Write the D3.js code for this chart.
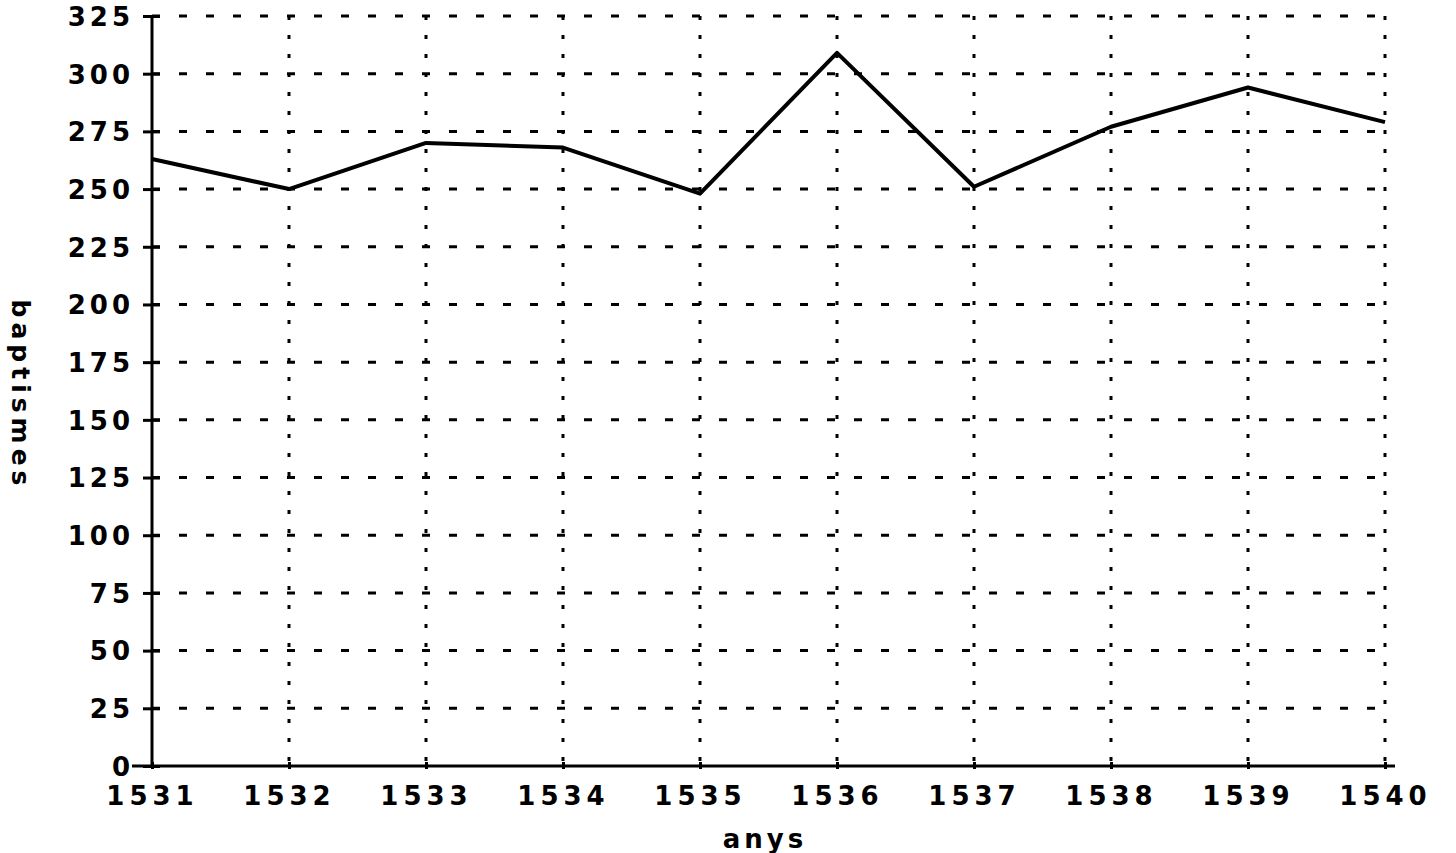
<!DOCTYPE html>
<html><head><meta charset="utf-8">
<script src="https://cdn.jsdelivr.net/npm/d3@7"></script>
<style>
body{margin:0;background:#fff;}
text{font-family:"DejaVu Sans",sans-serif;font-weight:bold;fill:#000;}
</style></head>
<body><svg id="c" width="1456" height="853"></svg>
<script>
const years = [1531,1532,1533,1534,1535,1536,1537,1538,1539,1540];
const baptismes = [263,250,270,268,248,309,251,277,294,279];
const yTicks = [0,25,50,75,100,125,150,175,200,225,250,275,300,325];
const xLabel = "anys";
const yLabel = "baptismes";

const svg = d3.select("#c");
const x = d3.scaleLinear().domain([1531,1540]).range([152,1385]);
const y = d3.scaleLinear().domain([0,325]).range([766,16]);

// grid
svg.append("g").selectAll("line").data(yTicks.filter(d=>d>0)).join("line")
  .attr("x1",x(1531)).attr("x2",x(1540)).attr("y1",d=>y(d)).attr("y2",d=>y(d))
  .attr("stroke","#000").attr("stroke-width",3).attr("stroke-dasharray","8,19");
svg.append("g").selectAll("line").data(years.slice(1)).join("line")
  .attr("x1",d=>x(d)).attr("x2",d=>x(d)).attr("y1",y(325)).attr("y2",y(0))
  .attr("stroke","#000").attr("stroke-width",3).attr("stroke-dasharray","4,15");

// axes
const yAxis = d3.axisLeft(y).tickValues(yTicks).tickSize(10).tickPadding(14);
const gy = svg.append("g").attr("transform",`translate(${x(1531)},0)`).call(yAxis);
gy.select(".domain").attr("stroke-width",3).attr("d",`M0,${y(325)}V${y(0)}`);
gy.selectAll(".tick line").attr("x1",-9).attr("x2",8).attr("stroke-width",3);
gy.selectAll(".tick text").attr("font-size",26).attr("letter-spacing",4).attr("dy","0.36em").attr("x",-18);

const xAxis = d3.axisBottom(x).tickValues(years).tickFormat(d3.format("d")).tickSize(5).tickPadding(16);
const gx = svg.append("g").attr("transform",`translate(0,${y(0)})`).call(xAxis);
gx.select(".domain").attr("stroke-width",3).attr("d",`M${x(1531)-20},0H${x(1540)+10}`);
gx.selectAll(".tick line").attr("y1",-4).attr("y2",3).attr("stroke-width",3);
gx.selectAll(".tick text").attr("font-size",26).attr("letter-spacing",5);

// line
svg.append("path").datum(years.map((d,i)=>[d,baptismes[i]]))
  .attr("fill","none").attr("stroke","#000").attr("stroke-width",4).attr("stroke-linejoin","round")
  .attr("d",d3.line().x(d=>x(d[0])).y(d=>y(d[1])));

// labels
svg.append("text").attr("x",765).attr("y",848).attr("text-anchor","middle")
  .attr("font-size",26).attr("letter-spacing",4).text(xLabel);
svg.append("text").attr("transform","translate(12,395) rotate(90)").attr("text-anchor","middle")
  .attr("font-size",25).attr("letter-spacing",5).text(yLabel);
</script></body></html>
